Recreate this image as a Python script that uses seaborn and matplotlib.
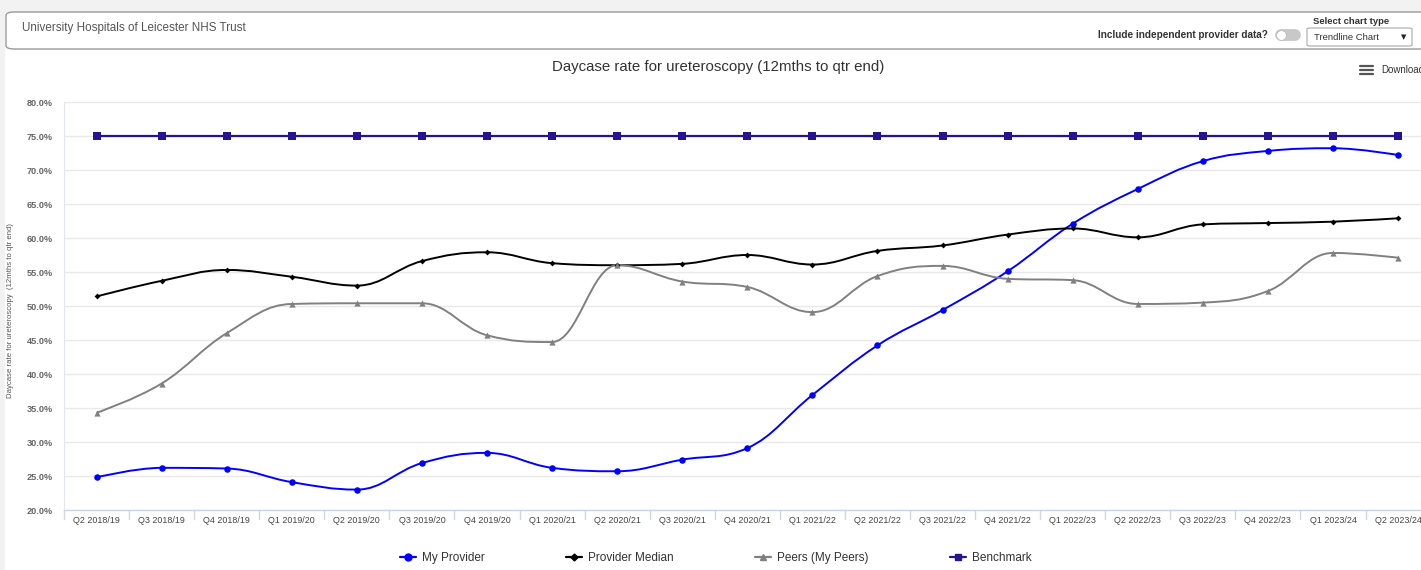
import numpy as np
import pandas as pd
import matplotlib
matplotlib.use("Agg")
import matplotlib.pyplot as plt
import seaborn as sns
from matplotlib.path import Path
from matplotlib.patches import PathPatch, FancyBboxPatch, Rectangle
from matplotlib.lines import Line2D
from matplotlib.ticker import FuncFormatter, MultipleLocator

quarters = ["Q2 2018/19", "Q3 2018/19", "Q4 2018/19", "Q1 2019/20", "Q2 2019/20",
            "Q3 2019/20", "Q4 2019/20", "Q1 2020/21", "Q2 2020/21", "Q3 2020/21",
            "Q4 2020/21", "Q1 2021/22", "Q2 2021/22", "Q3 2021/22", "Q4 2021/22",
            "Q1 2022/23", "Q2 2022/23", "Q3 2022/23", "Q4 2022/23", "Q1 2023/24",
            "Q2 2023/24"]

my_provider = [24.8, 26.2, 26.1, 24.1, 23.0, 26.9, 28.4, 26.2, 25.7, 27.4,
               29.1, 36.9, 44.2, 49.4, 55.1, 62.1, 67.2, 71.3, 72.8, 73.2, 72.2]
provider_median = [51.4, 53.7, 55.3, 54.3, 53.0, 56.6, 57.9, 56.3, 56.0, 56.2,
                   57.5, 56.1, 58.1, 58.9, 60.5, 61.4, 60.1, 62.0, 62.2, 62.4, 62.9]
peers = [34.3, 38.6, 46.0, 50.3, 50.4, 50.4, 45.7, 44.7, 56.0, 53.6,
         52.8, 49.1, 54.4, 55.9, 54.0, 53.8, 50.3, 50.5, 52.2, 57.8, 57.1]
benchmark = [75.0] * len(quarters)

series_names = ["My Provider", "Provider Median", "Peers (My Peers)", "Benchmark"]
series_values = [my_provider, provider_median, peers, benchmark]
colors = {"My Provider": "#0000ff", "Provider Median": "#000000",
          "Peers (My Peers)": "#808080", "Benchmark": "#24148f"}
markers = {"My Provider": "o", "Provider Median": "D",
           "Peers (My Peers)": "^", "Benchmark": "s"}
sizes = {"My Provider": 22, "Provider Median": 9, "Peers (My Peers)": 20, "Benchmark": 26}

df = pd.concat([
    pd.DataFrame({"quarter": quarters, "pos": np.arange(len(quarters)),
                  "value": vals, "series": name})
    for name, vals in zip(series_names, series_values)
], ignore_index=True)

W, H = 1421, 570
sns.set_theme(style="white")
plt.rcParams["font.family"] = ["Liberation Sans", "DejaVu Sans"]

fig = plt.figure(figsize=(W / 100, H / 100), dpi=100)
fig.patch.set_facecolor("white")


def fx(px):
    return px / W


def fy(py):
    return 1 - py / H


# page chrome: grey margins and header card
fig.patches.append(Rectangle((0, fy(12)), 1, 12 / H, transform=fig.transFigure,
                             facecolor="#f2f2f2", edgecolor="none", zorder=0))
fig.patches.append(Rectangle((0, 0), 5 / W, 1, transform=fig.transFigure,
                             facecolor="#f2f2f2", edgecolor="none", zorder=0))
fig.patches.append(FancyBboxPatch((fx(6), fy(49)), fx(1440) - fx(6), 37 / H,
                                  boxstyle="round,pad=0,rounding_size=0.006",
                                  transform=fig.transFigure, facecolor="white",
                                  edgecolor="#9a9a9a", linewidth=1.0, zorder=1))
fig.text(fx(22), fy(28), "University Hospitals of Leicester NHS Trust", fontsize=8.4,
         color="#555555", va="center", ha="left")
fig.text(fx(1268), fy(35), "Include independent provider data?", fontsize=7.2,
         fontweight="bold", color="#333333", va="center", ha="right")
# toggle switch
fig.add_artist(Line2D([fx(1281), fx(1295)], [fy(35), fy(35)], transform=fig.transFigure,
                      color="#c8c8c8", linewidth=8.5, solid_capstyle="round", zorder=2))
fig.add_artist(Line2D([fx(1281)], [fy(35)], transform=fig.transFigure, marker="o",
                      markersize=7, markerfacecolor="white", markeredgecolor="#b5b5b5",
                      markeredgewidth=0.5, linestyle="none", zorder=3))
fig.text(fx(1351), fy(21), "Select chart type", fontsize=6.8, fontweight="bold",
         color="#333333", va="center", ha="center")
fig.patches.append(FancyBboxPatch((fx(1307), fy(46)), 105 / W, 18 / H,
                                  boxstyle="round,pad=0,rounding_size=0.002",
                                  transform=fig.transFigure, facecolor="white",
                                  edgecolor="#aaaaaa", linewidth=0.8, zorder=2))
fig.text(fx(1314), fy(37), "Trendline Chart", fontsize=6.8, color="#333333",
         va="center", ha="left")
fig.text(fx(1404), fy(37), "\u25BC", fontsize=5, color="#222222", va="center",
         ha="center", family=["DejaVu Sans"])

fig.text(fx(718), fy(67), "Daycase rate for ureteroscopy (12mths to qtr end)",
         fontsize=10.8, color="#333333", va="center", ha="center")
for dy in (-4, 0, 4):
    fig.add_artist(Line2D([fx(1360), fx(1373)], [fy(70 + dy), fy(70 + dy)],
                          color="#555555", linewidth=1.6, transform=fig.transFigure))
fig.text(fx(1381), fy(70), "Download", fontsize=7, color="#333333", va="center", ha="left")

# plot area
left, right, top, bottom = 64, 1430.6, 102, 510
ax = fig.add_axes([fx(left), fy(bottom), (right - left) / W, (bottom - top) / H])
ax.set_facecolor("white")
ax.set_xlim(-0.5, len(quarters) - 0.5)
ax.set_ylim(20, 80)
ax.yaxis.set_major_locator(MultipleLocator(5))
ax.yaxis.set_major_formatter(FuncFormatter(lambda v, p: f"{v:.1f}%"))
ax.grid(axis="y", color="#e9e9e9", linewidth=1)
ax.set_axisbelow(True)
for side in ("top", "right"):
    ax.spines[side].set_visible(False)
ax.spines["left"].set_color("#e3e6ee")
ax.spines["bottom"].set_color("#ccd6eb")
ax.spines["left"].set_linewidth(0.8)
ax.spines["bottom"].set_linewidth(1)


def spline_path(xs, ys, smoothing=1.5):
    """Cubic Bezier path through the points, using smooth tangent handles."""
    n = len(xs)
    denom = smoothing + 1
    lc = [(xs[i], ys[i]) for i in range(n)]
    rc = [(xs[i], ys[i]) for i in range(n)]
    for i in range(1, n - 1):
        x, y = xs[i], ys[i]
        lx, ly = xs[i - 1], ys[i - 1]
        nx, ny = xs[i + 1], ys[i + 1]
        lcx = (smoothing * x + lx) / denom
        lcy = (smoothing * y + ly) / denom
        rcx = (smoothing * x + nx) / denom
        rcy = (smoothing * y + ny) / denom
        if rcx != lcx:
            corr = (rcy - lcy) * (rcx - x) / (rcx - lcx) + y - rcy
            lcy += corr
            rcy += corr
            if lcy > ly and lcy > y:
                lcy = max(ly, y)
                rcy = 2 * y - lcy
            elif lcy < ly and lcy < y:
                lcy = min(ly, y)
                rcy = 2 * y - lcy
            if rcy > ny and rcy > y:
                rcy = max(ny, y)
                lcy = 2 * y - rcy
            elif rcy < ny and rcy < y:
                rcy = min(ny, y)
                lcy = 2 * y - rcy
        lc[i] = (lcx, lcy)
        rc[i] = (rcx, rcy)
    verts = [(xs[0], ys[0])]
    codes = [Path.MOVETO]
    for i in range(1, n):
        verts += [rc[i - 1], lc[i], (xs[i], ys[i])]
        codes += [Path.CURVE4] * 3
    return Path(verts, codes)


line_widths = {"My Provider": 1.4, "Provider Median": 1.4,
               "Peers (My Peers)": 1.4, "Benchmark": 1.6}
for name in series_names:
    sub = df[df["series"] == name]
    patch = PathPatch(spline_path(sub["pos"].to_numpy(float), sub["value"].to_numpy(float)),
                      facecolor="none", edgecolor=colors[name],
                      linewidth=line_widths[name], zorder=3)
    ax.add_patch(patch)

for name in series_names:
    sub = df[df["series"] == name]
    sns.scatterplot(data=sub, x="pos", y="value", ax=ax, color=colors[name],
                    marker=markers[name], s=sizes[name], linewidth=0,
                    zorder=4, legend=False)

ax.set_xticks(np.arange(len(quarters)))
ax.set_xticklabels(quarters)
ax.set_xlabel("")
ax.set_ylabel("Daycase rate for ureteroscopy  (12mths to qtr end)", fontsize=5.6,
              color="#555555")
ax.yaxis.set_label_coords((14 - left) / (right - left), (bottom - 310) / (bottom - top))
ax.tick_params(axis="x", length=0, labelsize=6.4, labelcolor="#444444", pad=4)
ax.tick_params(axis="y", length=0, labelsize=6.6, labelcolor="#666666", pad=8)
for lbl in ax.get_yticklabels():
    lbl.set_fontweight("bold")
# category boundary ticks below the axis
for b in np.arange(len(quarters) + 1) - 0.5:
    ax.plot([b, b], [0, -0.022], transform=ax.get_xaxis_transform(), clip_on=False,
            color="#ccd6eb", linewidth=1)

handles = [Line2D([0], [0], color=colors[n], marker=markers[n], linewidth=1.6,
                  markersize={"My Provider": 5, "Provider Median": 3.5,
                              "Peers (My Peers)": 4.5, "Benchmark": 5}[n])
           for n in series_names]
leg = fig.legend(handles, series_names, loc="center", ncol=4,
                 bbox_to_anchor=(fx(716), fy(558)), frameon=False, fontsize=8.5,
                 handlelength=1.35, handletextpad=0.5, columnspacing=6.9)
for t in leg.get_texts():
    t.set_color("#333333")

fig.savefig("out.png", dpi=100)
